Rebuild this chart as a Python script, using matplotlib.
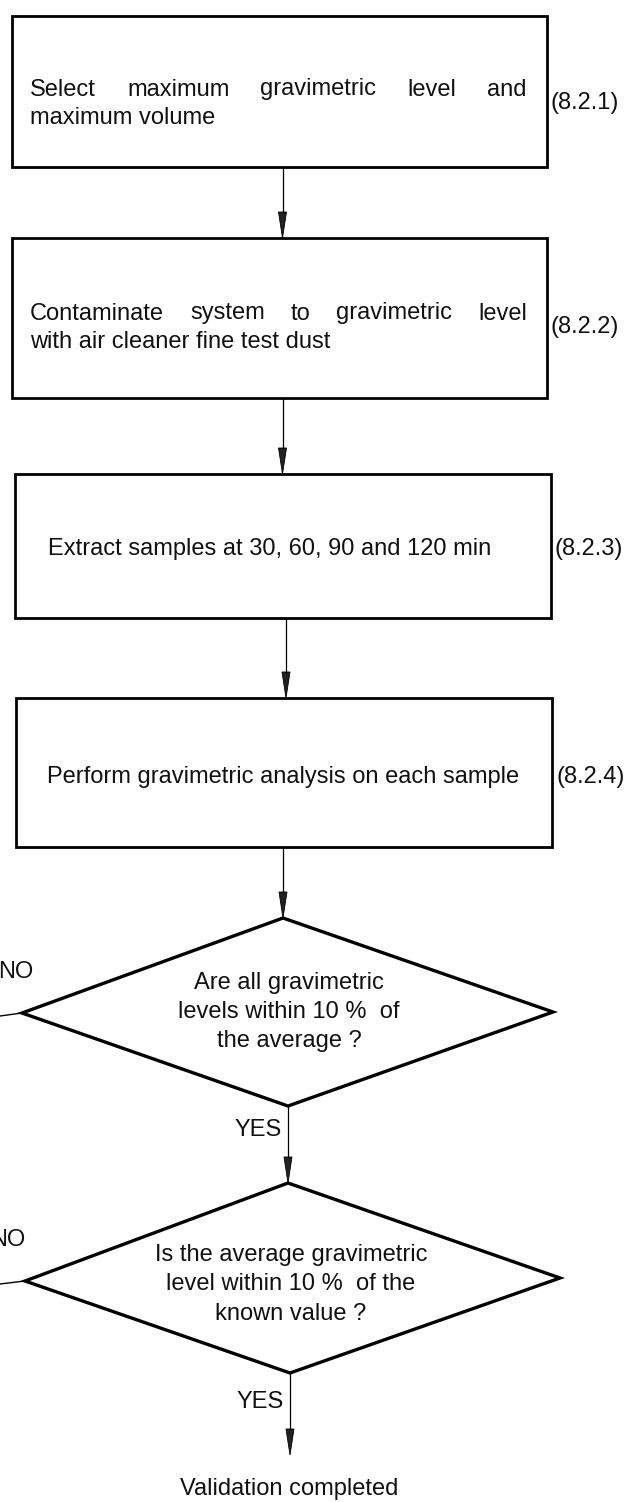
import matplotlib.pyplot as plt
from matplotlib.patches import Polygon, Rectangle

FONT = "Liberation Sans"

# flowchart content
step_lines = [
    ["Select maximum gravimetric level and", "maximum volume"],
    ["Contaminate system to gravimetric level", "with air cleaner fine test dust"],
    ["Extract samples at 30, 60, 90 and 120 min"],
    ["Perform gravimetric analysis on each sample"],
]
step_justify = [[True, False], [True, False], [False], [False]]
step_refs = ["(8.2.1)", "(8.2.2)", "(8.2.3)", "(8.2.4)"]

question_lines = [
    ["Are all gravimetric", "levels within 10 %  of", "the average ?"],
    ["Is the average gravimetric", "level within 10 %  of the", "known value ?"],
]
yes_label = "YES"
no_label = "NO"
end_label = "Validation completed"

# layout in pixels (x0, y0, x1, y1), y downwards
box_rects = [(12, 16, 547, 167), (12, 238, 547, 398), (15, 474, 551, 618), (16, 698, 552, 847)]
box_text_y = [(87, 115), (311, 339), (546,), (775,)]
box_text_x = [30, 30, 48, 47]
diamonds = [  # top, left, right, bottom
    [(283, 918), (22, 1013), (553, 1012), (288, 1106)],
    [(288, 1183), (25, 1281), (560, 1278), (290, 1373)],
]
diamond_text_y = [(980, 1009, 1038), (1252, 1281, 1311)]

fig = plt.figure(figsize=(6.29, 15.02), dpi=100)
ax = fig.add_axes([0, 0, 1, 1])
ax.set_xlim(0, 629)
ax.set_ylim(1502, 0)
ax.axis("off")

FS = 17


def arrow(x, y0, y1, head=26, half=4):
    ax.plot([x, x], [y0, y1 - head], color="black", lw=0.9)
    ax.add_patch(Polygon([(x - half, y1 - head), (x + half, y1 - head), (x, y1)],
                         closed=True, facecolor="#222222", edgecolor="black", lw=0.6))


def label(x, y, s, ha="left"):
    return ax.text(x, y, s, fontsize=FS, family=FONT, va="center_baseline", ha=ha,
                   color="#111111")


fig.canvas.draw()
renderer = fig.canvas.get_renderer()


def justified(words_line, x0, x1, y):
    words = words_line.split()
    texts = [label(0, y, w) for w in words]
    inv = ax.transData.inverted()
    widths = []
    for t in texts:
        bb = t.get_window_extent(renderer)
        a = inv.transform((bb.x0, bb.y0))
        b = inv.transform((bb.x1, bb.y1))
        widths.append(abs(b[0] - a[0]))
    gap = (x1 - x0 - sum(widths)) / max(len(words) - 1, 1)
    x = x0
    for t, w in zip(texts, widths):
        t.set_x(x)
        x += w + gap


for i, (x0, y0, x1, y1) in enumerate(box_rects):
    ax.add_patch(Rectangle((x0, y0), x1 - x0, y1 - y0, fill=False, edgecolor="black", lw=2.0))
    for line, ty, just in zip(step_lines[i], box_text_y[i], step_justify[i]):
        if just:
            justified(line, box_text_x[i], x1 - 20, ty)
        else:
            label(box_text_x[i], ty, line)
    ref_y = sum(box_text_y[i]) / len(box_text_y[i]) - (0 if len(box_text_y[i]) == 1 else 1)
    label(x1 + 4, ref_y, step_refs[i])
    if i < len(box_rects) - 1:
        cx = (x0 + x1) / 2 + 3
        arrow(cx, y1, box_rects[i + 1][1])

# from last box to first question
arrow(diamonds[0][0][0], box_rects[-1][3], diamonds[0][0][1])

for j, d in enumerate(diamonds):
    top, left, right, bottom = d
    ax.add_patch(Polygon([top, right, bottom, left], closed=True, fill=False,
                         edgecolor="black", lw=2.4, joinstyle="miter"))
    cx = bottom[0]
    for line, ty in zip(question_lines[j], diamond_text_y[j]):
        label(cx + 1, ty, line, ha="center")
    # NO branch
    ax.plot([0, left[0]], [left[1] + 3, left[1]], color="black", lw=1.0)
    label(-2 if j == 0 else -10, left[1] - 44, no_label)
    # YES branch
    label(bottom[0] - 6, bottom[1] + 21 if j == 0 else bottom[1] + 26, yes_label, ha="right")
    if j == 0:
        arrow(bottom[0], bottom[1], diamonds[1][0][1])
    else:
        arrow(bottom[0], bottom[1], 1455)

label(289, 1487, end_label, ha="center")

fig.savefig("out.png", dpi=100, facecolor="white")
